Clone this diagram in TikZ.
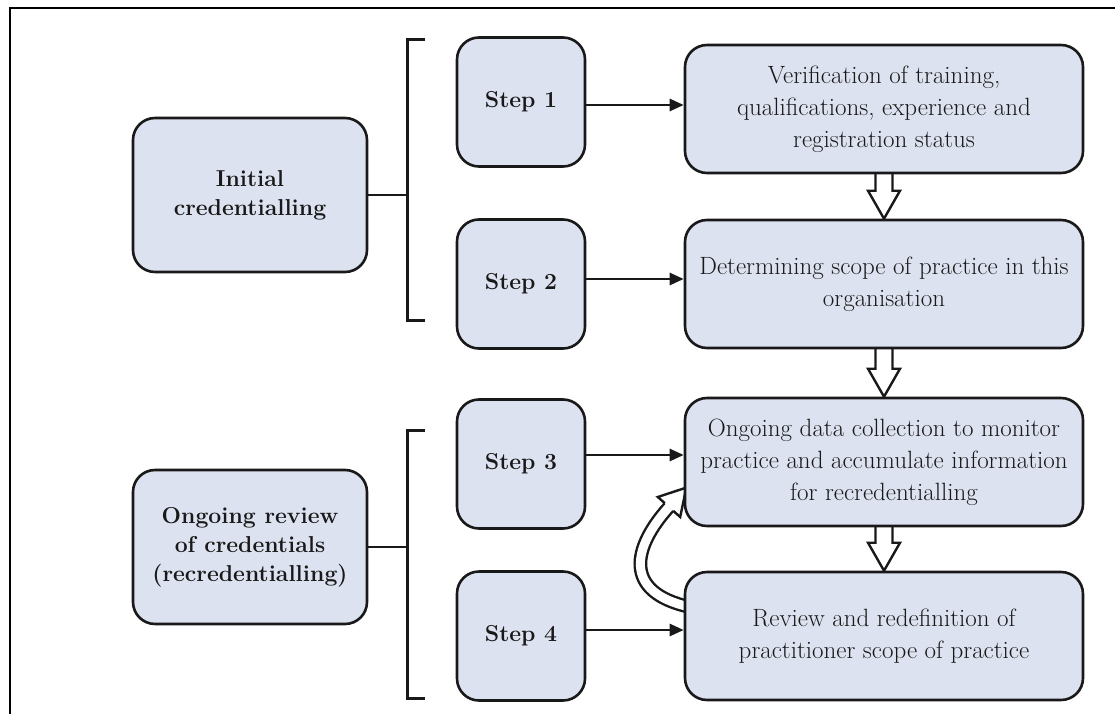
\documentclass[tikz,border=0pt]{standalone}
\usepackage{fontspec}
\usetikzlibrary{arrows.meta,calc,backgrounds}
\definecolor{boxfill}{RGB}{221,226,240}
\definecolor{ink}{RGB}{25,25,25}
\begin{document}
\begin{tikzpicture}[x=1pt,y=-1pt,
  box/.style={draw=ink, line width=2.6pt, rounded corners=22pt, fill=boxfill, align=center, inner sep=0pt, text=ink},
  leftbox/.style={box, minimum width=234pt, minimum height=154pt, font=\bfseries\fontsize{23}{29}\selectfont},
  stepbox/.style={box, minimum width=128pt, minimum height=129pt, font=\bfseries\fontsize{23}{26}\selectfont},
  rightbox/.style={box, minimum width=398pt, minimum height=128pt, font=\fontsize{25}{32}\selectfont},
  conn/.style={draw=ink, line width=2.6pt},
  arr/.style={draw=ink, line width=2.6pt, -{Triangle[length=14pt,width=12pt]}},
  hollow/.style={draw=ink, line width=2.4pt, line join=miter},
  frame/.style={draw=black, line width=2.5pt}
]
\useasboundingbox (0,0) rectangle (1115,714);
% frame
\coordinate (fTL) at (10,8);
\coordinate (fTR) at (1115,8);
\coordinate (fBL) at (10,714);
\draw[frame] (fTR) -- (fTL) -- (fBL);

% left boxes
\node[leftbox] (l1) at (250,195) {Initial\\credentialling};
\node[leftbox] (l2) at (250,547) {Ongoing review\\of credentials\\(recredentialling)};

% step boxes
\node[stepbox] (s1) at (521,102) {Step 1};
\node[stepbox] (s2) at (521,284) {Step 2};
\node[stepbox] (s3) at (521,464) {Step 3};
\node[stepbox] (s4) at (521,636) {Step 4};

% right boxes
\node[rightbox] (r1) at (884,109) {Verification of training,\\qualifications, experience and\\registration status};
\node[rightbox] (r2) at (884,284) {Determining scope of practice in this\\organisation};
\node[rightbox] (r3) at (884,462) {Ongoing data collection to monitor\\practice and accumulate information\\for recredentialling};
\node[rightbox] (r4) at (884,636) {Review and redefinition of\\practitioner scope of practice};

% brackets
\coordinate (b1t) at (425,40);
\coordinate (b1b) at (425,320);
\coordinate (b1m) at (407,195);
\coordinate (b2t) at (425,430);
\coordinate (b2b) at (425,698);
\coordinate (b2m) at (407,547);
\draw[conn, line width=3pt] (b1t) -- (b1t -| b1m) -- (b1b -| b1m) -- (b1b);
\draw[conn, line width=3pt] (b2t) -- (b2t -| b2m) -- (b2b -| b2m) -- (b2b);
\draw[conn] (l1.east) -- (b1m);
\draw[conn] (l2.east) -- (b2m);

% step arrows
\draw[arr] ([yshift=-3pt]s1.east) -- ([yshift=-3pt]s1.east -| r1.west);
\draw[arr] ([yshift=5pt]s2.east) -- ([yshift=5pt]s2.east -| r2.west);
\draw[arr] ([yshift=9pt]s3.east) -- ([yshift=9pt]s3.east -| r3.west);
\draw[arr] ([yshift=6pt]s4.east) -- ([yshift=6pt]s4.east -| r4.west);

\begin{scope}[on background layer]
% hollow down arrows
\foreach \a/\b in {r1/r2, r2/r3, r3/r4}{
  \path[fill=white] ($(\a.south)+(-8.5,-4)$) -- ($(\b.north)+(-8.5,-28)$) -- ($(\b.north)+(-16,-28)$) -- (\b.north) -- ($(\b.north)+(16,-28)$) -- ($(\b.north)+(8.5,-28)$) -- ($(\a.south)+(8.5,-4)$) -- cycle;
  \draw[hollow] ($(\a.south)+(-8.5,-4)$) -- ($(\b.north)+(-8.5,-28)$) -- ($(\b.north)+(-16,-28)$) -- (\b.north) -- ($(\b.north)+(16,-28)$) -- ($(\b.north)+(8.5,-28)$) -- ($(\a.south)+(8.5,-4)$);
}
% curved hollow arrow from r4 to r3
\coordinate (cs) at ($(r4.west)+(6,-29)$);
\coordinate (ce) at (669,507);
\draw[draw=ink, line width=2.4pt, double=white, double distance=9pt] (cs) .. controls (622,592) and (633,547) .. (ce);
\path[fill=white] (673.2,510.8) -- (680.2,517) -- (686.3,487.6) -- (657.8,497) -- (664.8,503.2) -- cycle;
\draw[hollow] (673.2,510.8) -- (680.2,517) -- (686.3,487.6) -- (657.8,497) -- (664.8,503.2);
\end{scope}
\end{tikzpicture}
\end{document}
